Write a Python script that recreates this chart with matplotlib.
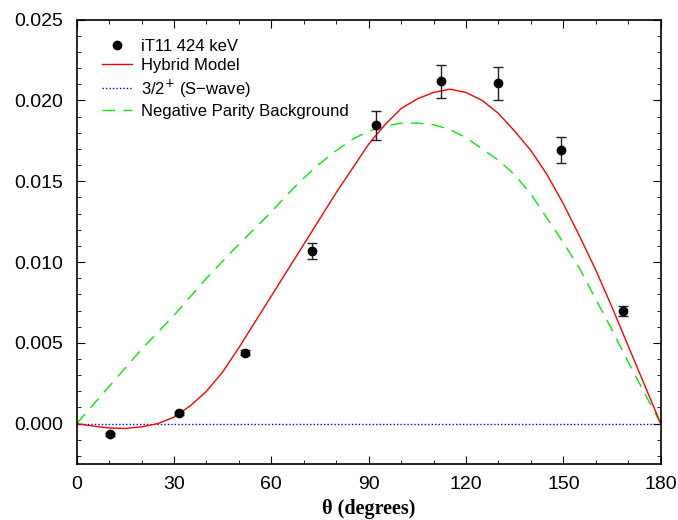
import numpy as np
import matplotlib.pyplot as plt
from matplotlib.ticker import MultipleLocator
from matplotlib.lines import Line2D
from matplotlib.legend_handler import HandlerLine2D

# measured points (iT11 424 keV)
theta_data = [10.2, 31.4, 52.0, 72.6, 92.3, 112.3, 129.8, 149.2, 168.3]
yield_data = [-0.00066, 0.00063, 0.0044, 0.01066, 0.01847, 0.02118, 0.02106, 0.01691, 0.00695]
yield_err = [0.0001, 0.0001, 0.00015, 0.0005, 0.0009, 0.001, 0.001, 0.0008, 0.0003]

# hybrid model curve
theta_hyb = [0, 5, 10, 15, 20, 25, 30, 35, 40, 45, 50, 55, 60, 65, 70, 75, 80, 85, 90,
             95, 100, 105, 110, 115, 120, 125, 130, 135, 140, 145, 150, 155, 160,
             165, 170, 175, 180]
yield_hyb = [0.0, -0.00015, -0.00027, -0.0003, -0.0002, 0.0, 0.0004, 0.0011, 0.0020,
             0.0032, 0.0047, 0.0063, 0.0079, 0.0095, 0.0111, 0.0127, 0.0143, 0.0158,
             0.0173, 0.0185, 0.0195, 0.0201, 0.0205, 0.0207, 0.0205, 0.0200, 0.0192,
             0.0181, 0.0169, 0.0154, 0.0136, 0.0116, 0.0095, 0.0072, 0.0048, 0.0024, 0.0]

# 3/2+ S-wave
theta_s = [0, 180]
yield_s = [0.0, 0.0]

# negative parity background
theta_bg = [0, 10, 20, 30, 40, 50, 55, 60, 65, 70, 75, 80, 85, 90, 95, 100, 105, 110,
            115, 120, 125, 130, 135, 140, 145, 150, 155, 160, 165, 170, 175, 180]
yield_bg = [0.0, 0.0023, 0.0046, 0.0067, 0.0090, 0.0111, 0.0121, 0.0131, 0.0142,
            0.0152, 0.0161, 0.0169, 0.0176, 0.0181, 0.0184, 0.0186, 0.0186, 0.0185,
            0.0182, 0.0177, 0.0170, 0.0163, 0.0154, 0.0142, 0.0127, 0.0112, 0.0096,
            0.0077, 0.0058, 0.0038, 0.0019, 0.0]


class EndMarker(HandlerLine2D):
    # put the legend dot at the right end of the handle
    def get_xdata(self, legend, xdescent, ydescent, width, height, fontsize):
        return [-xdescent, -xdescent + width], [-xdescent + 0.97 * width]


plt.rcParams['font.family'] = ['Liberation Sans', 'DejaVu Sans']

fig = plt.figure(figsize=(6.78, 5.2), dpi=100)
ax = fig.add_axes([0.1131, 0.1077, 0.8614, 0.8544])

ax.plot(theta_s, yield_s, color='blue', ls=(0, (1, 1.5)), lw=1.0)
ax.plot(theta_bg, yield_bg, color='#00ee00', ls=(0, (9, 6)), lw=1.0)
ax.plot(theta_hyb, yield_hyb, color='red', lw=1.0)
ax.errorbar(theta_data, yield_data, yerr=yield_err, fmt='o', color='black', ms=6,
            ecolor='#222222', elinewidth=1.0, capsize=3.5, capthick=1.0)

ax.set_xlim(0, 180)
ax.set_ylim(-0.0025, 0.025)
ax.xaxis.set_major_locator(MultipleLocator(30))
ax.xaxis.set_minor_locator(MultipleLocator(10))
ax.yaxis.set_major_locator(MultipleLocator(0.005))
ax.yaxis.set_minor_locator(MultipleLocator(0.001))
ax.yaxis.set_major_formatter(plt.FuncFormatter(lambda v, p: '%.3f' % v))
ax.tick_params(which='both', direction='in', top=True, right=True, labelsize=14)
ax.tick_params(which='major', length=6)
ax.tick_params(which='minor', length=3)
ax.tick_params(axis='x', pad=9)
ax.tick_params(axis='y', pad=10)
for s in ax.spines.values():
    s.set_linewidth(1.2)

ax.set_xlabel('\u03b8 (degrees)', family=['Liberation Serif', 'DejaVu Serif'],
              fontweight='bold', fontsize=14.5, labelpad=4)

proxies = [
    Line2D([], [], ls='none', marker='o', color='black', ms=6),
    Line2D([], [], color='red', lw=1.0),
    Line2D([], [], color='blue', ls=(0, (1, 1.5)), lw=1.0),
    Line2D([], [], color='#00ee00', ls=(0, (9, 6)), lw=1.0),
]
labels = ['iT11 424 keV', 'Hybrid Model', '3/2$^{+}$ (S\u2212wave)', 'Negative Parity Background']
ax.legend(proxies, labels, loc='upper left', bbox_to_anchor=(0.0428, 0.9566),
          frameon=False, fontsize=12, borderpad=0, borderaxespad=0,
          handlelength=1.8, handletextpad=0.55, labelspacing=0.25,
          handler_map={proxies[0]: EndMarker()})

fig.savefig('out.png', dpi=100)
